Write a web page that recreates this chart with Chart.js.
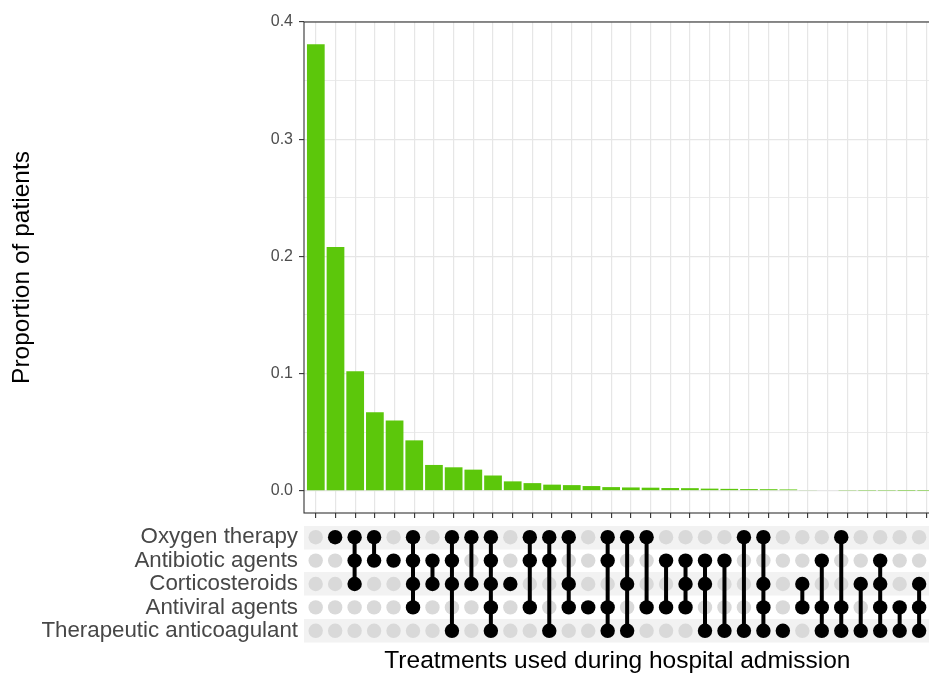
<!DOCTYPE html>
<html>
<head>
<meta charset="utf-8">
<script src="https://cdn.jsdelivr.net/npm/chart.js@4/dist/chart.umd.min.js"></script>
<style>
    html, body { margin: 0; padding: 0; background: #ffffff; width: 929px; height: 673px; overflow: hidden; }
    #bars { position: absolute; left: 0; top: 0; }
    #matrix { position: absolute; left: 0; top: 514px; }
</style>
</head>
<body>
<canvas id="bars" width="938" height="520" style="width:938px;height:520px"></canvas>
<canvas id="matrix" width="938" height="159" style="width:938px;height:159px"></canvas>
<script>
// UpSet plot - treatment combinations during hospital admission

const setNames = ['Oxygen therapy', 'Antibiotic agents', 'Corticosteroids', 'Antiviral agents', 'Therapeutic anticoagulant'];

// proportion of patients for each combination, in plotted order
const proportions = [
    0.381, 0.208, 0.102, 0.067, 0.060, 0.043, 0.022, 0.020, 0.018, 0.013,
    0.008, 0.0065, 0.0052, 0.0048, 0.0040, 0.0031, 0.0028, 0.0026, 0.0023, 0.0022,
    0.0018, 0.0016, 0.0014, 0.0013, 0.0011, 0.0006, 0.0005, 0.0003, 0.0002, 0.0002,
    0.0001, 0.0001
];

// members of each combination (index into setNames)
const combos = [
    [], [0], [0, 1, 2], [0, 1], [1], [0, 1, 2, 3], [1, 2], [0, 1, 2, 4], [0, 2], [0, 1, 2, 3, 4],
    [2], [0, 1, 3], [0, 1, 4], [0, 2, 3], [3], [0, 1, 3, 4], [0, 2, 4], [0, 3], [1, 3], [1, 2, 3],
    [1, 2, 4], [1, 4], [0, 4], [0, 2, 3, 4], [4], [2, 3], [1, 3, 4], [0, 3, 4], [2, 4], [1, 2, 3, 4],
    [3, 4], [2, 3, 4]
];

const yTicks = [0, 0.1, 0.2, 0.3, 0.4];
const yTickLabels = ['0.0', '0.1', '0.2', '0.3', '0.4'];
const yMinor = [0.05, 0.15, 0.25, 0.35];

const columns = proportions.map((p, i) => i + 1);
const FONT = "'Liberation Sans', Arial, Helvetica, sans-serif";

const panelBorder = {
    id: 'panelBorder',
    afterDraw(chart) {
        const { ctx, chartArea: a } = chart;
        ctx.save();
        ctx.strokeStyle = '#333333';
        ctx.lineWidth = 1.1;
        ctx.strokeRect(a.left, a.top, a.right - a.left, a.bottom - a.top);
        ctx.restore();
    }
};

// keep label overhang from pushing the panels around
const noPad = s => { s.width = 304; s.paddingTop = 0; s.paddingBottom = 0; };

// --- top panel: bars
new Chart(document.getElementById('bars').getContext('2d'), {
    type: 'bar',
    data: {
        datasets: [{
            data: columns.map((c, i) => ({ x: c, y: proportions[i] })),
            backgroundColor: '#5cc70b',
            borderWidth: 0,
            barPercentage: 0.9,
            categoryPercentage: 1
        }]
    },
    options: {
        responsive: false,
        animation: false,
        layout: { padding: { top: 22, right: 0, bottom: 0, left: 0 } },
        plugins: { legend: { display: false }, tooltip: { enabled: false } },
        scales: {
            x: {
                type: 'linear',
                min: 0.4,
                max: 32.6,
                offset: false,
                afterBuildTicks: s => { s.ticks = columns.map(v => ({ value: v })); },
                afterFit: s => { s.height = 7; s.paddingLeft = 0; s.paddingRight = 0; },
                ticks: { display: false, autoSkip: false },
                grid: { offset: false, color: '#e6e6e6', lineWidth: 1.2, drawTicks: true, tickLength: 5, tickColor: '#333333', tickWidth: 1.1 },
                border: { display: false }
            },
            y: {
                min: -0.019,
                max: 0.4,
                afterBuildTicks: s => {
                    s.ticks = yTicks.concat(yMinor).sort((a, b) => a - b).map(v => ({ value: v }));
                },
                afterFit: noPad,
                ticks: {
                    autoSkip: false,
                    padding: 6,
                    color: '#4d4d4d',
                    font: { family: FONT, size: 16 },
                    callback: v => { const k = yTicks.indexOf(v); return k < 0 ? '' : yTickLabels[k]; }
                },
                grid: {
                    color: '#e6e6e6',
                    lineWidth: c => yTicks.includes(c.tick.value) ? 1.2 : 0.8,
                    tickLength: 5,
                    tickColor: c => yTicks.includes(c.tick.value) ? '#333333' : 'rgba(0,0,0,0)',
                    tickWidth: 1.1
                },
                border: { display: false },
                title: {
                    display: true,
                    text: 'Proportion of patients',
                    color: '#000000',
                    font: { family: FONT, size: 24.5, lineHeight: 1 },
                    padding: { top: 10, bottom: 0 }
                }
            }
        }
    },
    plugins: [panelBorder]
});

// --- bottom panel: membership matrix
const greyDots = [];
const blackDots = [];
const links = [];
combos.forEach((members, i) => {
    const c = columns[i];
    setNames.forEach((name, r) => {
        (members.includes(r) ? blackDots : greyDots).push({ x: c, y: r + 1 });
    });
    if (members.length > 1) {
        links.push({ x: c, y: Math.min(...members) + 1 });
        links.push({ x: c, y: Math.max(...members) + 1 });
        links.push({ x: c, y: null });
    }
});

new Chart(document.getElementById('matrix').getContext('2d'), {
    type: 'scatter',
    data: {
        datasets: [
            { data: greyDots, backgroundColor: '#d9d9d9', pointRadius: 7.2, borderWidth: 0, order: 3 },
            { type: 'line', data: links, borderColor: '#000000', borderWidth: 4, pointRadius: 0, showLine: true, spanGaps: false, fill: false, order: 2 },
            { data: blackDots, backgroundColor: '#000000', pointRadius: 7.2, borderWidth: 0, order: 1 }
        ]
    },
    options: {
        responsive: false,
        animation: false,
        layout: { padding: { top: 11.5, right: 0, bottom: 0, left: 0 } },
        plugins: { legend: { display: false }, tooltip: { enabled: false } },
        scales: {
            x: {
                type: 'linear',
                min: 0.4,
                max: 32.6,
                offset: false,
                afterFit: s => { s.height = 30.5; s.paddingLeft = 0; s.paddingRight = 0; },
                ticks: { display: false },
                grid: { display: false },
                border: { display: false },
                title: {
                    display: true,
                    text: 'Treatments used during hospital admission',
                    color: '#000000',
                    font: { family: FONT, size: 24.5, lineHeight: 1 },
                    padding: { top: 0, bottom: 0 }
                }
            },
            y: {
                type: 'linear',
                min: 0.5,
                max: 5.5,
                reverse: true,
                afterBuildTicks: s => { s.ticks = setNames.map((n, i) => ({ value: i + 1 })); },
                afterFit: noPad,
                ticks: {
                    autoSkip: false,
                    padding: 6,
                    color: '#474747',
                    font: { family: FONT, size: 22.3 },
                    callback: v => setNames[v - 1]
                },
                grid: {
                    drawTicks: false,
                    color: c => (c.tick.value % 2 === 1) ? '#f2f2f2' : 'rgba(0,0,0,0)',
                    lineWidth: c => Math.abs(c.scale.getPixelForValue(2) - c.scale.getPixelForValue(1))
                },
                border: { display: false }
            }
        }
    }
});
</script>
</body>
</html>
